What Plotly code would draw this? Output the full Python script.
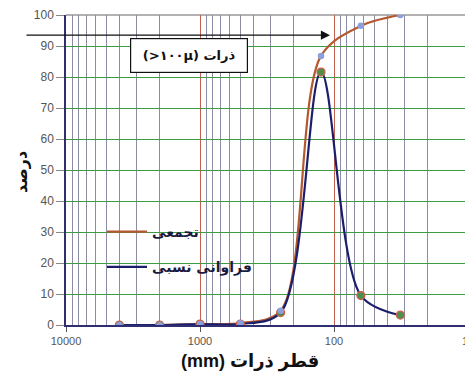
import plotly.graph_objects as go

# ---- data ----
sizes = [4000, 2000, 1000, 500, 250, 125, 63, 32]
cumulative = [0, 0, 0.3, 0.6, 4.6, 86.8, 96.5, 100]
relative = [0, 0, 0.3, 0.3, 4.0, 81.6, 9.5, 3.2]
y_ticks = [0, 10, 20, 30, 40, 50, 60, 70, 80, 90, 100]

name_cum = "تجمعی"
name_rel = "فراوانی نسبی"
x_title = "(mm) قطر ذرات"
y_title = "درصد"
box_text = "(>۱۰۰µ) ذرات"

BROWN = "#B4582F"
NAVY = "#1B1F6B"

OFF = 8  # page body margin
L, R, T, B = 66, 468, 15, 325
PW, PH = R - L, B - T
W, H = 473 - OFF, 378 - OFF


def px(x):
    return (x - L) / PW


def py(y):
    return (B - y) / PH


fig = go.Figure()
fig.add_trace(go.Scatter(
    x=sizes, y=cumulative, name=name_cum, mode="lines",
    line=dict(color=BROWN, width=2.2, shape="spline", smoothing=0.9),
    legendgroup="a", legendrank=1,
))
fig.add_trace(go.Scatter(
    x=sizes, y=relative, name=name_rel, mode="lines",
    line=dict(color=NAVY, width=2.2, shape="spline", smoothing=0.9),
    legendgroup="b", legendrank=2,
))
fig.add_trace(go.Scatter(
    x=sizes, y=relative, mode="markers", showlegend=False,
    marker=dict(color="#4E8E4E", size=8, line=dict(color="#D0604A", width=1.2)),
))
fig.add_trace(go.Scatter(
    x=sizes, y=cumulative, mode="markers", showlegend=False,
    marker=dict(color="#8C9EDC", size=6.5),
))

fig.update_layout(
    width=W, height=H,
    margin=dict(l=L - OFF, r=(W + OFF) - R, t=T - OFF, b=(H + OFF) - B),
    paper_bgcolor="white", plot_bgcolor="white",
    font=dict(family="Liberation Sans, DejaVu Sans, Arial", color="#555555"),
    showlegend=True,
    legend=dict(
        x=px(102), y=py(216), xanchor="left", yanchor="top",
        bgcolor="rgba(0,0,0,0)", borderwidth=0,
        font=dict(family="DejaVu Sans", size=14, color="#1a1a40", weight="bold"),
        traceorder="grouped", tracegroupgap=14,
        itemwidth=40,
    ),
    xaxis=dict(
        type="log", range=[4, 1], autorange=False, automargin=False,
        tick0=0, dtick=1, tickformat="d", ticklabeloverflow="allow",
        ticks="outside", ticklen=5, tickcolor="#555",
        tickfont=dict(size=11, color="#555"),
        showgrid=True, gridcolor="#C4604E", gridwidth=1.2,
        showline=True, linecolor="#2E2E70", linewidth=1.5,
        zeroline=False,
        minor=dict(dtick="D1", showgrid=True, gridcolor="#8C8CA4",
                   gridwidth=1.2, ticks=""),
    ),
    yaxis=dict(
        range=[0, 100], autorange=False, automargin=False, tickvals=y_ticks,
        ticks="outside", ticklen=8, tickcolor="#888",
        tickfont=dict(size=12, color="#555"),
        showgrid=True, gridcolor="#3F9A45", gridwidth=1.2,
        showline=True, linecolor="#2E2E70", linewidth=1.5,
        zeroline=False,
    ),
)

# borders (top & right) and legend background
fig.add_shape(type="line", xref="paper", yref="paper", x0=0, x1=1, y0=1, y1=1,
              line=dict(color="#999999", width=1.5), layer="between")
fig.add_shape(type="line", xref="paper", yref="paper", x0=1, x1=1, y0=0, y1=1,
              line=dict(color="#999999", width=1.5), layer="between")
fig.add_shape(type="rect", xref="paper", yref="paper",
              x0=px(92), x1=px(262), y0=py(297), y1=py(212),
              fillcolor="white", line=dict(width=0), layer="between")

# y title
fig.add_annotation(text="<b>" + y_title + "</b>", xref="paper", yref="paper",
                   x=px(21), y=py(172), xanchor="center", yanchor="middle",
                   showarrow=False, textangle=-90,
                   font=dict(family="DejaVu Sans", size=16, color="#111"))

# x title
fig.add_annotation(text="<b>" + x_title + "</b>", xref="paper", yref="paper",
                   x=px(250), y=py(361), xanchor="center", yanchor="middle",
                   showarrow=False,
                   font=dict(family="Liberation Sans, DejaVu Sans", size=18, color="#111"))

# labelled box
fig.add_annotation(text="<b>" + box_text + "</b>", xref="paper", yref="paper",
                   x=px(188.5), y=py(55), xanchor="center", yanchor="middle",
                   showarrow=False,
                   bgcolor="white", bordercolor="#111", borderwidth=1.2,
                   width=114, height=31,
                   font=dict(family="DejaVu Sans", size=13, color="#111"))

# arrow
fig.add_annotation(text="", x=2.03, y=93.5, xref="x", yref="y",
                   showarrow=True, ax=-305, ay=0, arrowhead=2, arrowsize=1.3,
                   arrowwidth=1.4, arrowcolor="#111")

fig.write_html("out.html")
